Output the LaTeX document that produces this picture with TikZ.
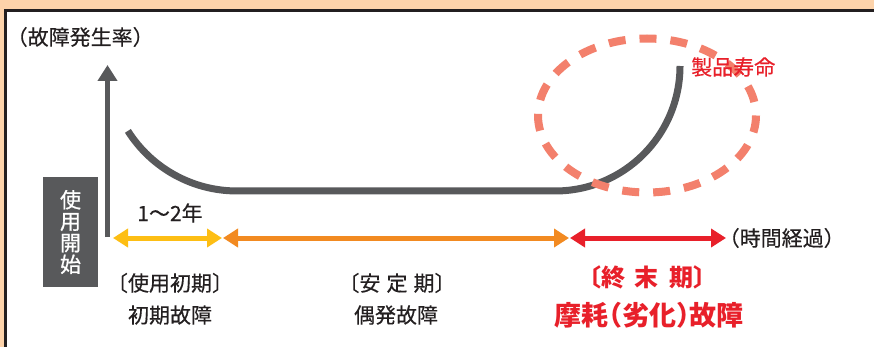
\documentclass[tikz,border=0pt]{standalone}
\usepackage{fontspec}
\setmainfont{Noto Sans CJK JP}[RawFeature=+halt]
\newfontfamily\medfont{Noto Sans CJK JP}[RawFeature=+halt, FakeBold=0.35]
\newfontfamily\boxfont{Noto Sans CJK JP}[RawFeature=+halt, FakeBold=0.9]
\usetikzlibrary{arrows.meta}
\definecolor{beige}{RGB}{253,211,170}
\definecolor{framec}{RGB}{35,31,32}
\definecolor{grayc}{RGB}{88,89,91}
\definecolor{txtc}{RGB}{35,31,32}
\definecolor{yelc}{RGB}{253,190,20}
\definecolor{orgc}{RGB}{242,138,33}
\definecolor{redc}{RGB}{232,32,42}
\definecolor{salmonc}{RGB}{243,128,108}
\begin{document}
\begin{tikzpicture}[x=1pt,y=-1pt,
  lbl/.style={text=txtc, inner sep=0pt, font=\medfont\fontsize{21}{24}\selectfont},
  redlbl/.style={text=redc, inner sep=0pt, font=\bfseries\fontsize{24}{26}\selectfont},
  curveline/.style={draw=grayc, line width=7pt},
  ring/.style={draw=salmonc, line width=8pt, dash pattern=on 17pt off 14pt},
  span/.style={line width=5pt, {Triangle[length=15pt,width=18pt]}-{Triangle[length=15pt,width=18pt]}},
]
\useasboundingbox (0,0) rectangle (874,347);
% frame
\fill[beige] (0,0) rectangle (874,347);
\fill[white] (5,10.5) rectangle (874,347);
\draw[framec, line width=3pt] (5,347) -- (5,10.5) -- (874,10.5);

% y-axis label and arrow
\node[lbl, anchor=west] (ylab) at (17,37) {（故障発生率）};
\coordinate (axb) at (107.5,237);
\coordinate (axt) at (107.5,65);
\draw[grayc, line width=5.5pt, -{Triangle[length=16pt,width=19pt]}] (axb) -- (axt);

% start box
\node[fill=grayc, minimum width=55pt, minimum height=110pt, inner sep=0pt] (startbox) at (70.5,232) {};
\node[text=white, inner sep=0pt, align=center, font=\boxfont\fontsize{21}{21.5}\selectfont] (starttxt) at (startbox.center) {使\\用\\開\\始};

% bathtub curve
\coordinate (c1) at (127.9,130.9);
\coordinate (c2) at (555,191);
\draw[curveline] (c1) arc[start angle=147.7, end angle=90, radius=129] -- (c2) arc[start angle=90, end angle=0, radius=125] coordinate (c3);

% dashed ellipse
\coordinate (ellc) at (647,115.5);
\draw[ring] (ellc) ellipse[x radius=109, y radius=77];
\node[lbl, text=redc, anchor=west] (life) at (691,67) {製品寿命};

% period arrows
\coordinate (y1) at (113,238);
\coordinate (y2) at (222,238);
\coordinate (o1) at (223,238);
\coordinate (o2) at (569,238);
\coordinate (r1) at (570,238);
\coordinate (r2) at (726,238);
\draw[span, yelc] (y1) -- (y2);
\draw[span, orgc] (o1) -- (o2);
\draw[span, redc] (r1) -- (r2);
\node[lbl, anchor=west] (xlab) at (729,238) {（時間経過）};

% labels
\node[lbl] (yrs) at (170,213) {1〜2年};
\node[lbl] (p1a) at (170,283) {〔使用初期〕};
\node[lbl] (p1b) at (170,315) {初期故障};
\node[lbl] (p2a) at (397,283) {〔安\hspace{6pt}定\hspace{6pt}期〕};
\node[lbl] (p2b) at (396,315) {偶発故障};
\node[redlbl] (p3a) at (647,277) {〔終\hspace{10pt}末\hspace{10pt}期〕};
\node[redlbl, font=\bfseries\fontsize{27}{29}\selectfont] (p3b) at (649,315) {摩耗（劣化）故障};
\end{tikzpicture}
\end{document}
